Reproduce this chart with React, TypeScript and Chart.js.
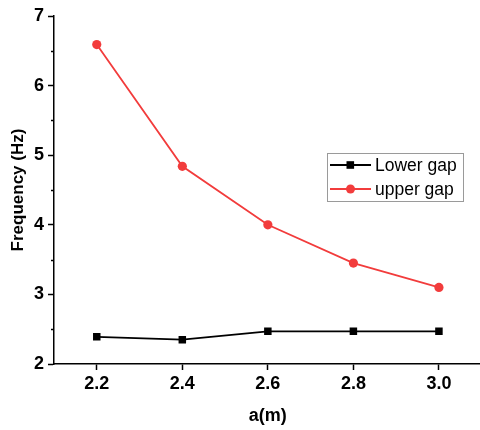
import React, { useEffect, useRef } from "react";
import { Chart, registerables } from "chart.js";

Chart.register(...registerables);

const xValues = [2.2, 2.4, 2.6, 2.8, 3.0];
const lowerGap = [2.39, 2.35, 2.47, 2.47, 2.47];
const upperGap = [6.59, 4.84, 4.0, 3.45, 3.1];
const xTicks = [2.2, 2.4, 2.6, 2.8, 3.0];
const yMinorTicks = [2.5, 3.5, 4.5, 5.5, 6.5];
const seriesNames = ["Lower gap", "upper gap"];

const RED = "#F23C3C";
const BLACK = "#000000";
const FONT = "'Liberation Sans', Arial, sans-serif";

const extrasPlugin = {
  id: "extras",
  afterDraw(chart: any) {
    const { ctx, scales } = chart;
    const y = scales.y;
    const xs = scales.x;
    ctx.save();
    // minor ticks on y axis
    ctx.strokeStyle = BLACK;
    ctx.lineWidth = 1.5;
    yMinorTicks.forEach((v) => {
      const py = Math.round(y.getPixelForValue(v)) + 0.5;
      ctx.beginPath();
      ctx.moveTo(xs.left - 3, py);
      ctx.lineTo(xs.left, py);
      ctx.stroke();
    });
    // legend
    const bx = 327.5, by = 153.5, bw = 136, bh = 48;
    ctx.strokeStyle = "#9a9a9a";
    ctx.lineWidth = 1;
    ctx.strokeRect(bx, by, bw, bh);
    const rows = [
      { name: seriesNames[0], color: BLACK, shape: "rect", cy: 165 },
      { name: seriesNames[1], color: RED, shape: "circle", cy: 189 },
    ];
    rows.forEach((r) => {
      ctx.strokeStyle = r.color;
      ctx.lineWidth = 1.8;
      ctx.beginPath();
      ctx.moveTo(330, r.cy);
      ctx.lineTo(371, r.cy);
      ctx.stroke();
      ctx.fillStyle = r.color;
      if (r.shape === "rect") {
        ctx.fillRect(346.5, r.cy - 3.8, 7.6, 7.6);
      } else {
        ctx.beginPath();
        ctx.arc(350.5, r.cy, 4.5, 0, Math.PI * 2);
        ctx.fill();
      }
      ctx.fillStyle = BLACK;
      ctx.font = `17.5px ${FONT}`;
      ctx.textBaseline = "middle";
      ctx.textAlign = "left";
      ctx.fillText(r.name, 375, r.cy + 1);
    });
    ctx.restore();
  },
};

export default function App() {
  const ref = useRef<HTMLCanvasElement | null>(null);
  useEffect(() => {
    if (!ref.current) return;
    const chart = new Chart(ref.current, {
      type: "line",
      data: {
        datasets: [
          {
            label: seriesNames[0],
            data: xValues.map((x, i) => ({ x, y: lowerGap[i] })),
            borderColor: BLACK,
            backgroundColor: BLACK,
            borderWidth: 1.8,
            pointStyle: "rect",
            pointRadius: 5.3,
            pointBorderWidth: 0,
          },
          {
            label: seriesNames[1],
            data: xValues.map((x, i) => ({ x, y: upperGap[i] })),
            borderColor: RED,
            backgroundColor: RED,
            borderWidth: 1.8,
            pointStyle: "circle",
            pointRadius: 4.6,
            pointBorderWidth: 0,
          },
        ],
      },
      options: {
        animation: false,
        responsive: false,
        maintainAspectRatio: false,
        layout: { padding: { top: 16, right: 0, left: 0, bottom: 0 } },
        plugins: { legend: { display: false }, tooltip: { enabled: false } },
        scales: {
          x: {
            type: "linear",
            min: 2.1,
            max: 3.1,
            afterBuildTicks: (scale: any) => {
              scale.ticks = xTicks.map((v) => ({ value: v }));
            },
            afterFit: (scale: any) => {
              scale.height = 66;
            },
            ticks: {
              color: BLACK,
              padding: 3,
              font: { family: FONT, size: 18, weight: "bold" },
              callback: (v: any) => Number(v).toFixed(1),
            },
            grid: {
              display: true,
              drawOnChartArea: false,
              tickLength: 6,
              tickColor: BLACK,
              tickWidth: 1.5,
            },
            border: { display: true, color: BLACK, width: 1.5 },
            title: {
              display: true,
              text: "a(m)",
              color: BLACK,
              font: { family: FONT, size: 18, weight: "bold" },
              padding: { top: 0, bottom: 3 },
            },
          },
          y: {
            type: "linear",
            min: 2,
            max: 7,
            afterFit: (scale: any) => {
              scale.width = 54;
            },
            ticks: {
              stepSize: 1,
              color: BLACK,
              padding: 4,
              font: { family: FONT, size: 18, weight: "bold" },
            },
            grid: {
              display: true,
              drawOnChartArea: false,
              tickLength: 6,
              tickColor: BLACK,
              tickWidth: 1.5,
            },
            border: { display: true, color: BLACK, width: 1.5 },
            title: {
              display: true,
              text: "Frequency (Hz)",
              color: BLACK,
              font: { family: FONT, size: 17, weight: "bold" },
              padding: { top: 8, bottom: 0 },
            },
          },
        },
      },
      plugins: [extrasPlugin],
    } as any);
    return () => chart.destroy();
  }, []);
  return (
    <div
      style={{
        position: "fixed",
        left: 0,
        top: 0,
        width: 480,
        height: 430,
        overflow: "hidden",
        background: "#fff",
      }}
    >
      <canvas ref={ref} width={487} height={430} style={{ display: "block" }} />
    </div>
  );
}
